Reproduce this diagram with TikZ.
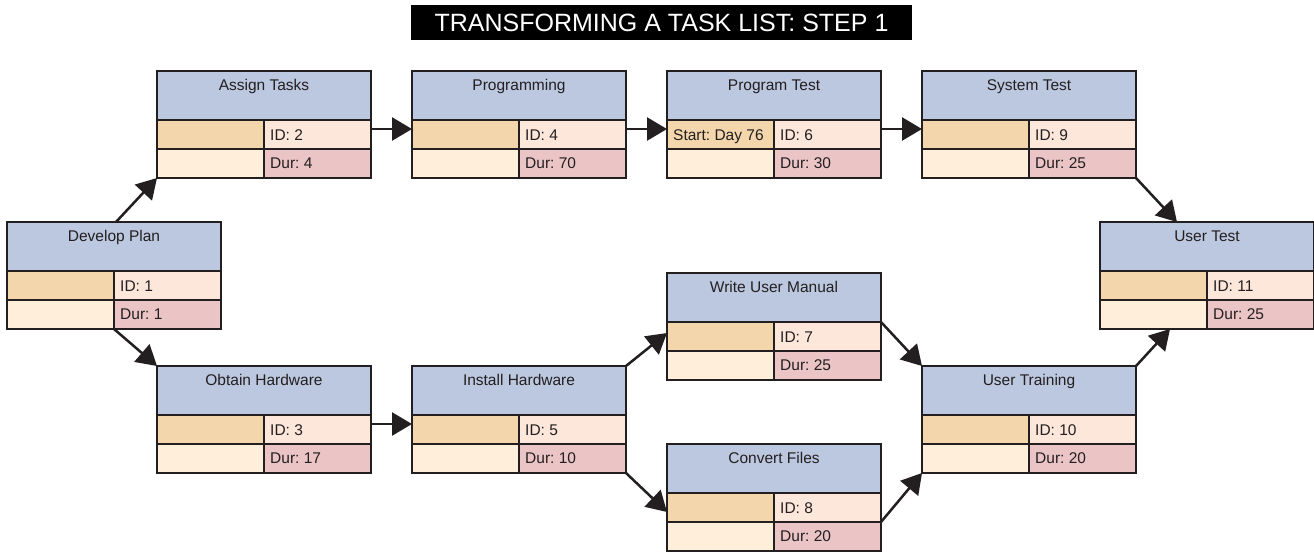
\documentclass[tikz,border=0pt]{standalone}
\usepackage{fontspec}
\setmainfont{Liberation Sans}
\usetikzlibrary{arrows.meta,calc}
\frenchspacing
\definecolor{ink}{HTML}{231F20}
\definecolor{hdrc}{HTML}{BCC8E0}
\definecolor{cA}{HTML}{F3D6AB}
\definecolor{cB}{HTML}{FCE7DA}
\definecolor{cC}{HTML}{FEEEDA}
\definecolor{cD}{HTML}{EBC4C6}
\tikzset{
  box/.style={minimum width=214pt,minimum height=107pt,inner sep=0pt,outer sep=0pt,anchor=north west},
  outerline/.style={draw=ink,line width=2.5pt},
  innerline/.style={draw=ink,line width=2pt},
  ttl/.style={font=\fontsize{15.5}{15.5}\selectfont,text=ink,anchor=base,inner sep=0pt},
  cell/.style={font=\fontsize{15.5}{15.5}\selectfont,text=ink,anchor=base west,inner sep=0pt},
  conn/.style={draw=ink,line width=2.5pt,-{Triangle[length=20pt,width=23pt]}},
}
\newcommand{\taskbox}[6]{%
  \node[box] (#1) at #2 {};
  \fill[hdrc] (#1.north west) rectangle ++(214,49);
  \fill[cA] ([yshift=-49pt]#1.north west) rectangle ++(107,29);
  \fill[cB] ([yshift=-49pt]#1.north) rectangle ++(107,29);
  \fill[cC] ([yshift=-78pt]#1.north west) rectangle ++(107,29);
  \fill[cD] ([yshift=-78pt]#1.north) rectangle ++(107,29);
  \draw[innerline] ([yshift=-49pt]#1.north west) -- ++(214,0);
  \draw[innerline] ([yshift=-78pt]#1.north west) -- ++(214,0);
  \draw[innerline] ([yshift=-49pt]#1.north) -- (#1.south);
  \node[ttl] (#1-t) at ([yshift=-19pt]#1.north) {#3};
  \node[cell] (#1-s) at ([xshift=6pt,yshift=-69pt]#1.north west) {#4};
  \node[cell] (#1-i) at ([xshift=6pt,yshift=-69pt]#1.north) {#5};
  \node[cell] (#1-d) at ([xshift=6pt,yshift=-97.5pt]#1.north) {#6};
  \draw[outerline] (#1.north west) rectangle (#1.south east);
}
\begin{document}
\begin{tikzpicture}[x=1pt,y=-1pt]
\useasboundingbox (0,0) rectangle (1314,552);
\fill[white] (0,0) rectangle (1314,552);
\node[fill=black,text=white,minimum width=501pt,minimum height=35pt,inner sep=0pt,
  font=\fontsize{25}{25}\selectfont] (title) at (661.5,22.5) {TRANSFORMING A TASK LIST: STEP 1};
\taskbox{dp}{(7,222)}{Develop Plan}{}{ID: 1}{Dur: 1}
\taskbox{at}{(157,71)}{Assign Tasks}{}{ID: 2}{Dur: 4}
\taskbox{pr}{(412,71)}{Programming}{}{ID: 4}{Dur: 70}
\taskbox{pt}{(667,71)}{Program Test}{Start: Day 76}{ID: 6}{Dur: 30}
\taskbox{st}{(922,71)}{System Test}{}{ID: 9}{Dur: 25}
\taskbox{ut}{(1100,222)}{User Test}{}{ID: 11}{Dur: 25}
\taskbox{oh}{(157,366)}{Obtain Hardware}{}{ID: 3}{Dur: 17}
\taskbox{ih}{(412,366)}{Install Hardware}{}{ID: 5}{Dur: 10}
\taskbox{wm}{(667,273)}{Write User Manual}{}{ID: 7}{Dur: 25}
\taskbox{cf}{(667,444)}{Convert Files}{}{ID: 8}{Dur: 20}
\taskbox{tr}{(922,366)}{User Training}{}{ID: 10}{Dur: 20}
\draw[conn] ([xshift=2pt]dp.north) -- (at.south west);
\draw[conn] (dp.south) -- (oh.north west);
\draw[conn] ([yshift=-58pt]at.north east) -- ([yshift=-58pt]pr.north west);
\draw[conn] ([yshift=-58pt]pr.north east) -- ([yshift=-58pt]pt.north west);
\draw[conn] ([yshift=-58pt]pt.north east) -- ([yshift=-58pt]st.north west);
\draw[conn] ([yshift=-58pt]oh.north east) -- ([yshift=-58pt]ih.north west);
\draw[conn] (ih.north east) -- ([yshift=-60pt]wm.north west);
\draw[conn] (ih.south east) -- ([yshift=-68pt]cf.north west);
\draw[conn] ([yshift=-49pt]wm.north east) -- (tr.north west);
\draw[conn] ([yshift=-78pt]cf.north east) -- (tr.south west);
\draw[conn] (st.south east) -- ([xshift=-30pt]ut.north);
\draw[conn] (tr.north east) -- ([xshift=-37pt]ut.south);
\end{tikzpicture}
\end{document}
